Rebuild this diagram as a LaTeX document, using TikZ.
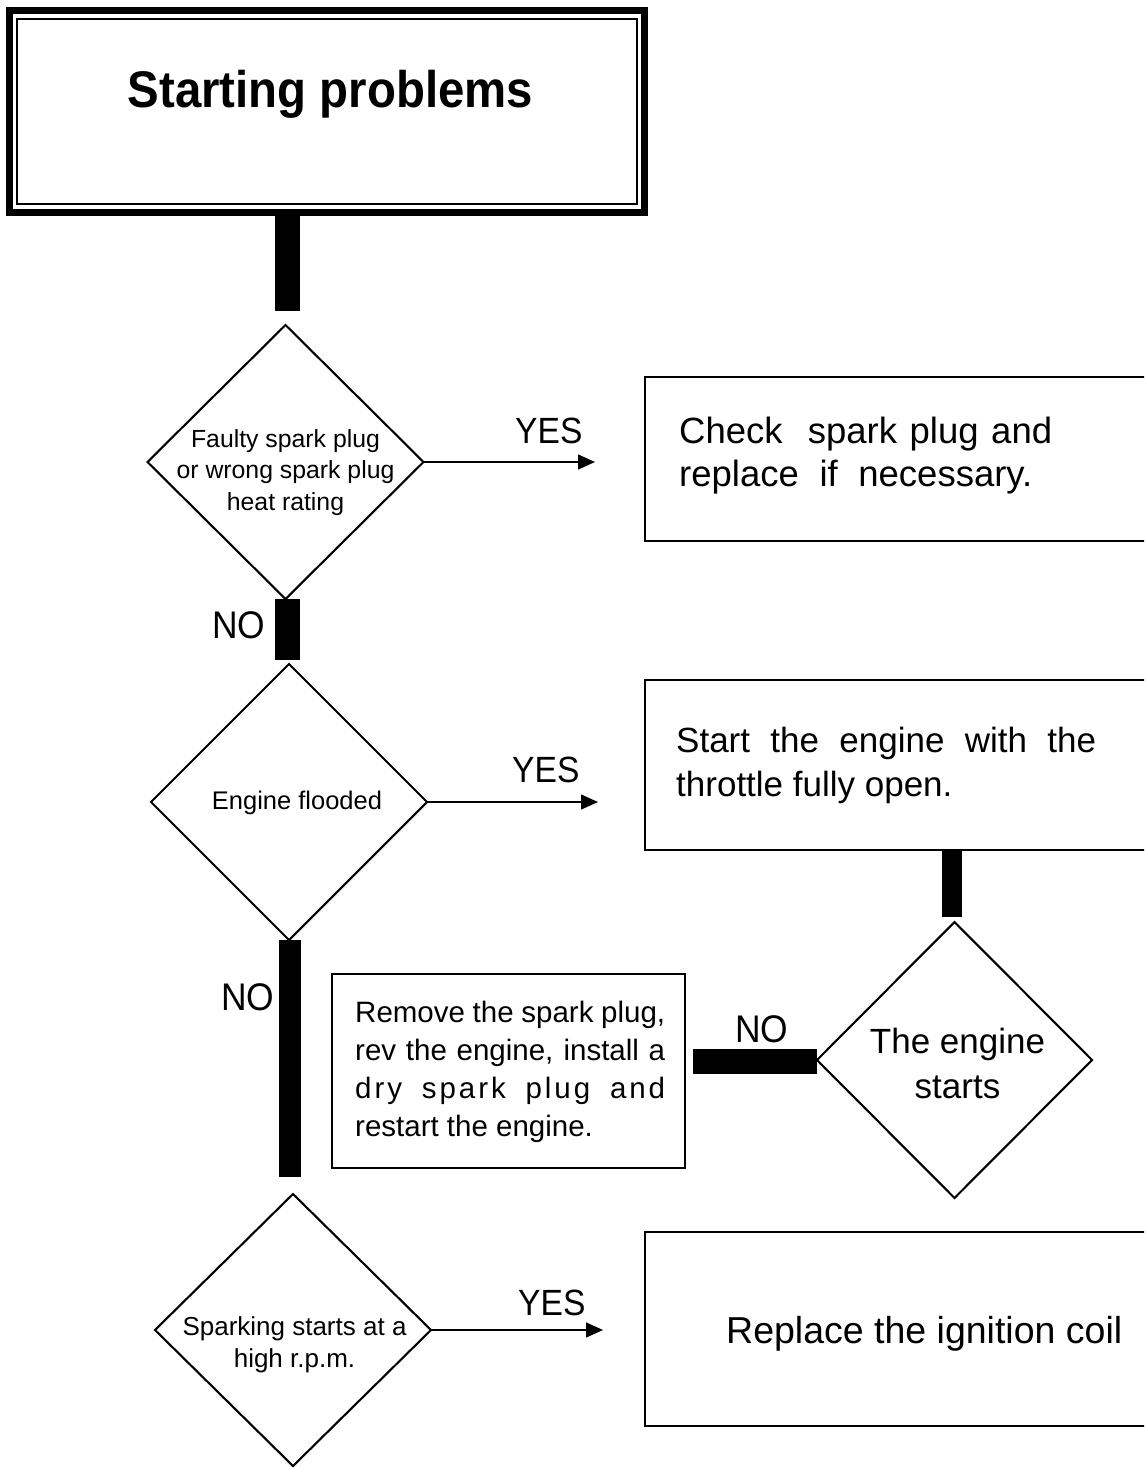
\documentclass[tikz,border=0pt]{standalone}
\usepackage{fontspec}
\setmainfont{Liberation Sans}
\newfontfamily\condfont[FakeStretch=0.92]{Liberation Sans}
\usetikzlibrary{shapes.geometric,arrows.meta}
\tikzset{
  box/.style={draw, line width=2pt, rectangle, inner sep=0pt, outer sep=0pt},
  dia/.style={draw, line width=2.1pt, diamond, inner sep=0pt, outer sep=0pt},
  thickbar/.style={line width=#1, draw=black},
  thickbar/.default=25pt,
  arr/.style={line width=1.3pt, -{Triangle[length=17pt,width=15pt]}},
  lbl/.style={inner sep=0pt, anchor=base west, font=\condfont\fontsize{36.5}{40}\selectfont},
  txt/.style={inner sep=0pt},
}
\begin{document}
\begin{tikzpicture}[x=1pt,y=-1pt]
\useasboundingbox (0,0) rectangle (1144,1468);
\clip (0,0) rectangle (1144,1468);

% title
\node[box, line width=7pt, minimum width=635pt, minimum height=202pt] (title) at (326.5,111) {};
\draw[line width=1.3pt] ([shift={(8pt,-9pt)}]title.north west) rectangle ([shift={(-7pt,8pt)}]title.south east);
\node[txt, anchor=base, font=\condfont\bfseries\fontsize{51.5}{60}\selectfont] (ttl) at (330.5,107) {Starting problems};

% diamonds
\node[dia, minimum width=276pt, minimum height=274pt] (d1) at (285.5,462) {};
\node[dia, minimum width=276pt, minimum height=276pt] (d2) at (289,802) {};
\node[dia, minimum width=275pt, minimum height=276pt] (d3) at (954.5,1060) {};
\node[dia, minimum width=276pt, minimum height=272pt] (d4) at (293,1330) {};

\node[txt, anchor=base, font=\fontsize{24.8}{31.5}\selectfont] (t1) at (285.5,447)
  {\begin{tabular}[t]{@{}c@{}}Faulty spark plug\\or wrong spark plug\\heat rating\end{tabular}};
\node[txt, anchor=base, font=\fontsize{25.5}{31.5}\selectfont] (t2) at (297,809) {Engine flooded};
\node[txt, anchor=base, font=\fontsize{35}{45}\selectfont] (t3) at (957.5,1053)
  {\begin{tabular}[t]{@{}c@{}}The engine\\starts\end{tabular}};
\node[txt, anchor=base, font=\fontsize{26}{32}\selectfont] (t4) at (294.5,1335)
  {\begin{tabular}[t]{@{}c@{}}Sparking starts at a\\high r.p.m.\end{tabular}};

% boxes
\node[box, minimum width=525pt, minimum height=164pt] (box1) at (907.5,459) {};
\node[box, minimum width=525pt, minimum height=170pt] (box2) at (907.5,765) {};
\node[box, minimum width=353pt, minimum height=194pt] (box3) at (508.5,1071) {};
\node[box, minimum width=525pt, minimum height=194pt] (box4) at (907.5,1329) {};

\node[txt, anchor=base west, font=\fontsize{36.5}{43}\selectfont] (b1) at (679,443)
  {\begin{tabular}[t]{@{}l@{}}\makebox[373pt][s]{Check\ \ spark plug and}\\\makebox[353pt][s]{replace if necessary.}\end{tabular}};
\node[txt, anchor=base west, font=\fontsize{35}{44}\selectfont] (b2) at (676,752)
  {\begin{tabular}[t]{@{}l@{}}\makebox[420pt][s]{Start the engine with the}\\throttle fully open.\end{tabular}};
\node[txt, anchor=base west, font=\fontsize{29.5}{38.3}\selectfont] (b3) at (355,1022)
  {\begin{tabular}[t]{@{}l@{}}\makebox[310pt][s]{Remove the spark plug,}\\\makebox[310pt][s]{rev the engine, install a}\\\makebox[310pt][s]{\addfontfeature{LetterSpace=10}dry spark plug and}\\restart the engine.\end{tabular}};
\node[txt, anchor=base west, font=\fontsize{37.5}{44}\selectfont] (b4) at (726,1343) {Replace the ignition coil};

% thick connectors
\draw[thickbar] ([xshift=2pt]d1.north |- title.south) -- ([xshift=2pt,yshift=14pt]d1.north);
\draw[thickbar] ([xshift=2pt]d1.south) -- ([xshift=2pt,yshift=4pt]d1.south |- d2.north);
\draw[thickbar=22pt] ([xshift=1pt]d2.south) -- ([xshift=1pt,yshift=17pt]d2.south |- d4.north);
\draw[thickbar=20pt] ([xshift=-2.5pt]d3.north |- box2.south) -- ([xshift=-2.5pt,yshift=5pt]d3.north);
\draw[thickbar] ([yshift=-1.5pt]d3.west) -- ([xshift=8pt,yshift=-1.5pt]box3.east |- d3.west);

% arrows
\draw[arr, shorten >=50pt] (d1.east) -- (d1.east -| box1.west);
\draw[arr, shorten >=47pt] (d2.east) -- (d2.east -| box2.west);
\draw[arr, shorten >=42pt] (d4.east) -- (d4.east -| box4.west);

% labels
\node[lbl] (yes1) at (515,443) {YES};
\node[lbl] (yes2) at (512,782) {YES};
\node[lbl] (yes3) at (518,1315) {YES};
\node[lbl, font=\condfont\fontsize{38.5}{40}\selectfont] (no1) at (212,638) {NO};
\node[lbl, font=\condfont\fontsize{38.5}{40}\selectfont] (no2) at (221,1010) {NO};
\node[lbl, font=\condfont\fontsize{38.5}{40}\selectfont] (no3) at (735,1042) {NO};
\end{tikzpicture}
\end{document}
